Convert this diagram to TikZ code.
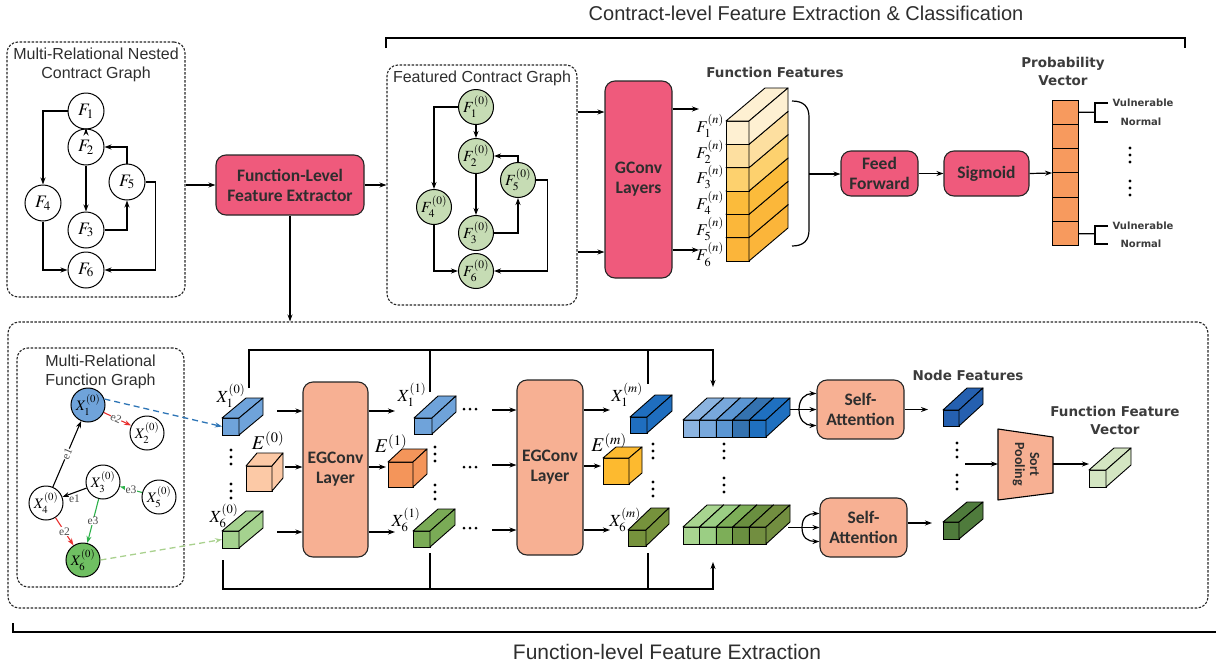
\documentclass[tikz,border=0pt]{standalone}
\usepackage{mathptmx}
\usepackage[no-math]{fontspec}
\setmainfont{Liberation Sans}
\newfontfamily\fcal{Carlito}
\newfontfamily\fdv{DejaVu Sans}
\newfontfamily\fser{Liberation Serif}
\usetikzlibrary{arrows.meta,calc}
\definecolor{pinkb}{HTML}{EF5A7C}
\definecolor{salm}{HTML}{F7B093}
\definecolor{sage}{HTML}{C6DCB4}
\definecolor{orng}{HTML}{F79A5E}
\definecolor{txt}{HTML}{2E2E2E}
\definecolor{lbl}{HTML}{3C3C3C}
\definecolor{xblue}{HTML}{6FA3DA}
\definecolor{xgreen}{HTML}{6FBF62}
\definecolor{ered}{HTML}{E8302F}
\definecolor{egreen}{HTML}{2DB14A}
\definecolor{dblue}{HTML}{2E75B6}
\definecolor{dgreen}{HTML}{A9D18E}
\definecolor{cbA}{HTML}{6FA3DA}
\definecolor{cgA}{HTML}{A5D28F}
\definecolor{ceA}{HTML}{FCC9A6}
\definecolor{ceB}{HTML}{F4955A}
\definecolor{cgB}{HTML}{7AAB56}
\definecolor{cbM}{HTML}{1F6EBF}
\definecolor{ceM}{HTML}{FDBA2F}
\definecolor{cgM}{HTML}{76923C}
\definecolor{nfb}{HTML}{2560B0}
\definecolor{nfg}{HTML}{4F7B3C}
\definecolor{ffv}{HTML}{D4E6C2}
\definecolor{bsa}{HTML}{8CB4E0}
\definecolor{bsb}{HTML}{78A8DC}
\definecolor{bsc}{HTML}{5B96D3}
\definecolor{bsd}{HTML}{3472B0}
\definecolor{bse}{HTML}{1F70C0}
\definecolor{gsa}{HTML}{A8D590}
\definecolor{gsb}{HTML}{9BCE84}
\definecolor{gsc}{HTML}{7DAE58}
\definecolor{gsd}{HTML}{6A8F40}
\definecolor{gse}{HTML}{728E40}
\definecolor{ffa}{HTML}{FEF0D2}
\definecolor{ffb}{HTML}{FDDFA0}
\definecolor{ffc}{HTML}{FDD16E}
\definecolor{ffd}{HTML}{FBBB3B}
\definecolor{ffe}{HTML}{FBB73A}
\definecolor{fff}{HTML}{FBB53A}
\newcommand\cub[8]{%
  \node[cubf, fill=#8, minimum width=#4, minimum height=#5] (#1) at ({#2},{#3}) {};
  \draw[cubl, fill=#8] (#1.north west) -- ++(#6,-#7) -- ++(#4,0) -- (#1.north east) -- cycle;
  \draw[cubl, fill=#8] (#1.north east) -- ++(#6,-#7) -- ++(0,#5) -- (#1.south east) -- cycle;
}
\newcommand\vd[2]{\fill (#1,#2-7) circle (1.6pt) (#1,#2) circle (1.6pt) (#1,#2+7) circle (1.6pt);}
\newcommand\hd[2]{\fill (#1-6,#2) circle (1.5pt) (#1,#2) circle (1.5pt) (#1+6,#2) circle (1.5pt);}
\begin{document}
\begin{tikzpicture}[x=1pt,y=-1pt,
  arr/.style={-{Stealth[length=7pt,width=5pt]}, line width=1.2pt},
  ln/.style={line width=1.2pt},
  dbox/.style={draw=black!85, dash pattern=on 2.5pt off 1.5pt, line width=1.1pt, rounded corners=11pt, inner sep=0},
  gn/.style={circle, draw, line width=1pt, minimum size=36pt, inner sep=0pt, font=\fontsize{17.5}{17}\selectfont},
  sn/.style={gn, fill=sage, minimum size=35pt, font=\fontsize{15.5}{15}\selectfont},
  xn/.style={gn, minimum size=34pt, font=\fontsize{14.5}{14}\selectfont},
  pbox/.style={draw=black!85, fill=pinkb, rounded corners=10pt, line width=1.1pt, font=\fcal\bfseries\fontsize{17.5}{20}\selectfont, text=txt, align=center, inner sep=0},
  sbox/.style={pbox, fill=salm},
  ttl/.style={font=\fdv\bfseries\fontsize{13.5}{18}\selectfont, text=lbl, align=center},
  gtl/.style={font=\fontsize{16}{19}\selectfont, text=txt, align=center},
  cubf/.style={draw, line width=0.9pt, anchor=north west, inner sep=0, outer sep=0},
  cubl/.style={draw, line width=0.9pt, line join=round},
  ml/.style={font=\fontsize{17}{17}\selectfont, inner sep=0},
  bl/.style={font=\fontsize{19.5}{19}\selectfont, inner sep=0},
  el/.style={font=\fser\fontsize{11.5}{11}\selectfont, text=black!70, fill=white, inner sep=0.3pt},
  pcell/.style={draw, line width=1pt, fill=orng, minimum width=26pt, minimum height=24.33pt, inner sep=0, outer sep=0},
  sm/.style={font=\fdv\bfseries\fontsize{10}{12}\selectfont, text=lbl, inner sep=0},
]
\useasboundingbox (0,0) rectangle (1216,667);

% ---------- titles and brackets ----------
\node[font=\fontsize{20}{22}\selectfont, text=txt] (ttop) at (806,13) {Contract-level Feature Extraction \& Classification};
\draw[ln] (386,48) -- (386,38) -- (1185,38) -- (1185,48);
\node[font=\fontsize{21}{22}\selectfont, text=txt] (tbot) at (667,652) {Function-level Feature Extraction};
\draw[ln] (13,623) -- (13,632) -- (1216,632);

% ---------- frames ----------
\node[dbox, minimum width=178pt, minimum height=255pt] (box1) at (96,169.5) {};
\node[dbox, minimum width=190pt, minimum height=240pt] (box2) at (482,185) {};
\node[dbox, minimum width=1200pt, minimum height=286pt] (big) at (608,465) {};
\node[dbox, minimum width=167pt, minimum height=239pt] (fgb) at (100.5,467.5) {};

% ---------- contract graph ----------
\node[gtl] (t1) at (96,64.5) {Multi-Relational Nested\\Contract Graph};
\node[gn] (F1) at (86,111) {$F_{1}$};
\node[gn] (F2) at (86,147) {$F_{2}$};
\node[gn] (F5) at (127,182) {$F_{5}$};
\node[gn] (F4) at (43,203) {$F_{4}$};
\node[gn] (F3) at (86,230) {$F_{3}$};
\node[gn] (F6) at (86,270) {$F_{6}$};
\draw[arr] (F1) -- (F2);
\draw[arr] (F2) -- (F3);
\draw[arr] (F1.west) -| (F4.north);
\draw[arr] (F3.east) -| (F5.south);
\draw[arr] (F5.north) |- (F2.east);
\draw[arr] (F5.east) -- ++(10,0) |- (F6.east);
\draw[arr] (F4.south) |- (F6.west);

% ---------- function-level feature extractor ----------
\node[pbox, minimum width=148pt, minimum height=60pt] (fl) at (290,185) {Function-Level\\Feature Extractor};
\draw[arr] (box1.east |- fl.west) -- (fl.west);
\draw[arr] (fl.east) -- (box2.west |- fl.east);
\draw[arr] (fl.south) -- (fl.south |- big.north);

% ---------- featured contract graph ----------
\node[gtl] (t2) at (482,78) {Featured Contract Graph};
\node[sn] (G1) at (476,107) {$F_{1}^{(0)}$};
\node[sn] (G2) at (476,156) {$F_{2}^{(0)}$};
\node[sn] (G5) at (518,180) {$F_{5}^{(0)}$};
\node[sn] (G4) at (434,207) {$F_{4}^{(0)}$};
\node[sn] (G3) at (476,233) {$F_{3}^{(0)}$};
\node[sn] (G6) at (476,271) {$F_{6}^{(0)}$};
\draw[arr] (G1) -- (G2);
\draw[arr] (G2) -- (G3);
\draw[arr] (G1.west) -| (G4.north);
\draw[arr] (G3.east) -| (G5.south);
\draw[arr] (G5.north) |- (G2.east);
\draw[arr] (G5.east) -- ++(11.5,0) |- (G6.east);
\draw[arr] (G4.south) |- (G6.west);

% ---------- GConv ----------
\node[pbox, minimum width=67pt, minimum height=197pt] (gc) at (638.5,179.5) {GConv\\Layers};
\draw[arr] (box2.east |- 0,112) -- (gc.west |- 0,112);
\draw[arr] (box2.east |- 0,252) -- (gc.west |- 0,252);
\coordinate (go1) at (699,109);
\coordinate (go6) at (699,250);
\draw[arr] (gc.east |- go1) -- (go1);
\draw[arr] (gc.east |- go6) -- (go6);

% ---------- function features stack ----------
\node[ttl] (tff) at (775,72) {Function Features};
\foreach \i/\c in {6/fff,5/ffe,4/ffd,3/ffc,2/ffb,1/ffa}{
  \cub{ff\i}{726}{121+23.33*(\i-1)}{23}{23.33}{39}{33}{\c}
}
\foreach \i in {1,...,6}{
  \node[ml, anchor=east, font=\fontsize{16.5}{16}\selectfont] (lf\i) at (724,{126+25.7*(\i-1)}) {$F_{\i}^{(n)}$};
}
\draw[line width=1.2pt] (792,101) .. controls (804,101) and (809,107) .. (809,117) -- (809,230) .. controls (809,240) and (804,246) .. (792,246);
\coordinate (brc) at (809,174);

% ---------- classifier ----------
\node[pbox, minimum width=77pt, minimum height=45pt] (ffn) at (879.5,173.5) {Feed\\Forward};
\node[pbox, minimum width=85pt, minimum height=45pt] (sig) at (986.5,173.5) {Sigmoid};
\draw[arr] (brc) -- (ffn.west |- brc);
\draw[arr] (ffn.east) -- (sig.west);
\node[ttl] (tpv) at (1063,71.5) {Probability\\Vector};
\foreach \i in {1,...,6}{
  \node[pcell] (p\i) at (1065,{100+24.33*(\i-0.5)}) {};
}
\draw[arr] (sig.east) -- (p3.south west);
\draw[ln] (p1.east) -- (1095,112.2);
\draw[ln] (1108,103) -- (1095,103) -- (1095,122) -- (1108,122);
\node[sm] (v1) at (1143,103) {Vulnerable};
\node[sm] (n1) at (1141,122) {Normal};
\draw[ln] (p6.east) -- (1095,233.8);
\draw[ln] (1108,226) -- (1095,226) -- (1095,244) -- (1108,244);
\node[sm] (v6) at (1143,226) {Vulnerable};
\node[sm] (n6) at (1141,244) {Normal};
\vd{1130}{155}
\vd{1130}{188}

% ---------- function graph ----------
\node[gtl] (t3) at (100.5,371.5) {Multi-Relational\\Function Graph};
\node[xn, fill=xblue] (X1) at (88,405) {$X_{1}^{(0)}$};
\node[xn] (X2) at (147,433) {$X_{2}^{(0)}$};
\node[xn] (X3) at (103,482) {$X_{3}^{(0)}$};
\node[xn] (X5) at (159,497) {$X_{5}^{(0)}$};
\node[xn] (X4) at (46,503) {$X_{4}^{(0)}$};
\node[xn, fill=xgreen] (X6) at (83,560) {$X_{6}^{(0)}$};
\draw[arr, line width=1.1pt] (X4) -- node[el, sloped] {e1} (X1);
\draw[arr, line width=1.1pt, ered] (X1) -- node[el, sloped, pos=0.45] {e2} (X2);
\draw[arr, line width=1.1pt] (X3) -- node[el, below=1.5pt] {e1} (X4);
\draw[arr, line width=1.1pt, egreen] (X5) -- node[el] {e3} (X3);
\draw[arr, line width=1.1pt, egreen] (X3) -- node[el] {e3} (X6);
\draw[arr, line width=1.1pt, ered] (X4) -- node[el] {e2} (X6);

% ---------- layer 0 ----------
\cub{cx10}{222}{418}{17}{17}{24}{20}{cbA}
\cub{ce0}{246}{466}{26}{25}{11}{13}{ceA}
\cub{cx60}{222}{531}{17}{17}{24}{20}{cgA}
\node[ml] (lx10) at (231,396) {$X_{1}^{(0)}$};
\node[bl] (le0) at (268,441) {$E^{(0)}$};
\node[ml] (lx60) at (224,516) {$X_{6}^{(0)}$};
\vd{231}{457}
\vd{231}{491}
\draw[arr, dblue, dash pattern=on 6pt off 4pt, line width=1.3pt] (X1.20) -- (cx10.west);
\draw[arr, dgreen, dash pattern=on 6pt off 4pt, line width=1.3pt] (X6.east) -- (cx60.west);

% ---------- EGConv 1 ----------
\node[sbox, minimum width=65pt, minimum height=175pt] (eg1) at (335.5,469.5) {EGConv\\Layer};
\coordinate (a1) at (277,411);
\coordinate (a2) at (285,467);
\coordinate (a3) at (277,532);
\draw[arr] (a1) -- (eg1.west |- a1);
\draw[arr] (a2) -- (eg1.west |- a2);
\draw[arr] (a3) -- (eg1.west |- a3);
\coordinate (b1) at (395,411);
\coordinate (b2) at (386,467);
\coordinate (b3) at (395,532);
\draw[arr] (eg1.east |- b1) -- (b1);
\draw[arr] (eg1.east |- b2) -- (b2);
\draw[arr] (eg1.east |- b3) -- (b3);

% ---------- layer 1 ----------
\cub{cx11}{414}{418}{18}{16}{24}{22}{cbA}
\cub{ce1}{388}{462}{25}{25}{14}{13}{ceB}
\cub{cx61}{413}{531}{17}{16}{25}{22}{cgB}
\node[ml] (lx11) at (412,395) {$X_{1}^{(1)}$};
\node[bl] (le1) at (391,444) {$E^{(1)}$};
\node[ml] (lx61) at (406,520) {$X_{6}^{(1)}$};
\vd{435}{454}
\vd{435}{492}
\hd{470}{409}
\hd{470}{467}
\hd{470}{528}

% ---------- EGConv 2 ----------
\node[sbox, minimum width=66pt, minimum height=175pt] (eg2) at (550,467.5) {EGConv\\Layer};
\coordinate (c1) at (492,410);
\coordinate (c2) at (492,465);
\coordinate (c3) at (492,530);
\draw[arr] (c1) -- (eg2.west |- c1);
\draw[arr] (c2) -- (eg2.west |- c2);
\draw[arr] (c3) -- (eg2.west |- c3);
\coordinate (d1) at (610,410);
\coordinate (d2) at (601,466);
\coordinate (d3) at (610,530);
\draw[arr] (eg2.east |- d1) -- (d1);
\draw[arr] (eg2.east |- d2) -- (d2);
\draw[arr] (eg2.east |- d3) -- (d3);

% ---------- layer m ----------
\cub{cx1m}{630}{417}{17}{16}{25}{22}{cbM}
\cub{cem}{603}{458}{26}{26}{13}{11}{ceM}
\cub{cx6m}{628}{530}{18}{16}{23}{22}{cgM}
\node[ml] (lx1m) at (627,395) {$X_{1}^{(m)}$};
\node[bl] (lem) at (609,443) {$E^{(m)}$};
\node[ml] (lx6m) at (625,520) {$X_{6}^{(m)}$};
\vd{653}{451}
\vd{653}{489}

% ---------- concatenated stacks ----------
\foreach \i/\c in {1/bsa,2/bsb,3/bsc,4/bsd,5/bse}{
  \cub{bs\i}{683+16.6*(\i-1)}{420}{16.6}{17}{24}{22}{\c}
}
\foreach \i/\c in {1/gsa,2/gsb,3/gsc,4/gsd,5/gse}{
  \cub{gs\i}{683+16.6*(\i-1)}{527}{16.6}{17}{24}{22}{\c}
}
\vd{724}{451}
\vd{724}{485}

% ---------- skip lines ----------
\coordinate (s0) at (249,388);
\coordinate (s1) at (249,350);
\coordinate (s2) at (713,350);
\coordinate (s3) at (713,387);
\draw[arr] (s0) -- (s1) -- (s2) -- (s3);
\draw[ln] (430,350) -- (430,392);
\draw[ln] (648,350) -- (648,384);
\coordinate (u0) at (223,560);
\coordinate (u1) at (223,589);
\coordinate (u2) at (713,589);
\coordinate (u3) at (713,562);
\draw[arr] (u0) -- (u1) -- (u2) -- (u3);
\draw[ln] (430,589) -- (430,553);
\draw[ln] (648,589) -- (648,553);

% ---------- self-attention ----------
\node[sbox, minimum width=87pt, minimum height=59pt] (sa1) at (860.5,409.5) {Self-\\Attention};
\node[sbox, minimum width=87pt, minimum height=59pt] (sa2) at (863.5,527.5) {Self-\\Attention};
\coordinate (bsr) at (790,409.5);
\coordinate (gsr) at (788,527.5);
\draw[arr] (bsr) -- (sa1.west);
\draw[arr] (799,409.5) .. controls (799,399) and (805,393.5) .. ([yshift=16pt]sa1.west);
\draw[arr] (799,409.5) .. controls (799,420) and (805,425.5) .. ([yshift=-16pt]sa1.west);
\draw[arr] (gsr) -- (sa2.west);
\draw[arr] (802,527.5) .. controls (802,517) and (808,513.5) .. ([yshift=14pt]sa2.west);
\draw[arr] (802,527.5) .. controls (802,538) and (808,541.5) .. ([yshift=-14pt]sa2.west);

% ---------- node features ----------
\node[ttl] (tnf) at (968,375) {Node Features};
\cub{nf1}{943}{410}{16}{16}{24}{22}{nfb}
\cub{nf6}{943}{522}{16}{17}{24}{20}{nfg}
\coordinate (na) at (928,409.5);
\coordinate (nb) at (932,523);
\draw[arr] (sa1.east) -- (na);
\draw[arr] (sa2.east |- nb) -- (nb);
\vd{957}{450}
\vd{957}{482}

% ---------- sort pooling ----------
\draw[fill=salm, line width=1.1pt, line join=round] (998,429) -- (1053,437) -- (1053,493) -- (998,500) -- cycle;
\node[rotate=-90, font=\fcal\bfseries\fontsize{14}{15}\selectfont, text=txt, align=center] (sp) at (1026,464) {Sort\\Pooling};
\coordinate (spl) at (998,464);
\coordinate (spr) at (1053,464);
\coordinate (dts) at (965,464);
\draw[arr] (dts) -- (spl);
\cub{fv}{1089}{470}{17}{17}{25}{22}{ffv}
\draw[arr] (spr) -- (fv.west |- spr);
\node[ttl] (tfv) at (1115,420.5) {Function Feature\\Vector};

\end{tikzpicture}
\end{document}
